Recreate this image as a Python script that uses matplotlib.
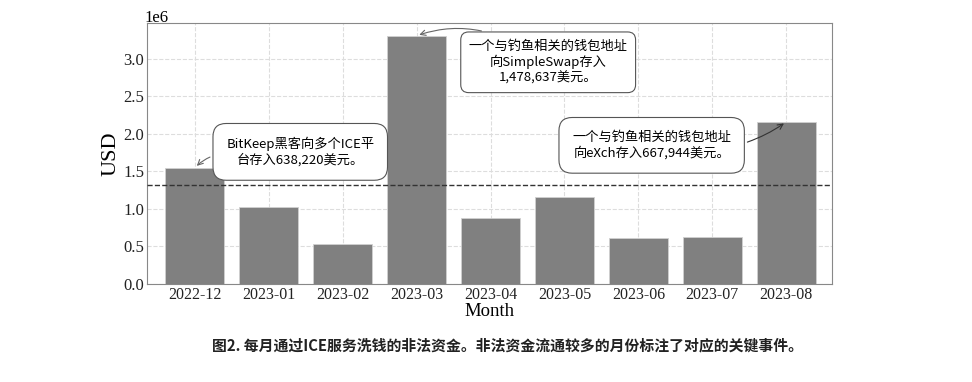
import matplotlib
matplotlib.use("Agg")
import matplotlib.pyplot as plt
import numpy as np

months = ["2022-12", "2023-01", "2023-02", "2023-03", "2023-04",
          "2023-05", "2023-06", "2023-07", "2023-08"]
usd = [1.547e6, 1.027e6, 0.533e6, 3.307e6, 0.88e6, 1.16e6, 0.613e6, 0.627e6, 2.16e6]
notes = {
    "2022-12": "BitKeep黑客向多个ICE平\n台存入638,220美元。",
    "2023-03": "一个与钓鱼相关的钱包地址\n向SimpleSwap存入\n1,478,637美元。",
    "2023-08": "一个与钓鱼相关的钱包地址\n向eXch存入667,944美元。",
}
caption = "图2. 每月通过ICE服务洗钱的非法资金。非法资金流通较多的月份标注了对应的关键事件。"

serif = ["Liberation Serif", "DejaVu Serif"]
cjk = ["Noto Sans CJK SC", "DejaVu Sans"]

fig = plt.figure(figsize=(9.72, 3.82), dpi=100)
ax = fig.add_axes([0.151, 0.2565, 0.705, 0.684])
x = np.arange(len(months))
ax.bar(x, usd, width=0.8, color="#808080", edgecolor="#d0d0d0", linewidth=0.6, zorder=2)
ax.axhline(np.mean(usd), color="#333333", linestyle="--", linewidth=1, zorder=3)

ax.set_xlim(-0.65, 8.62)
ax.set_ylim(0, 3.48e6)
ax.set_xticks(x)
ax.set_xticklabels(months, fontfamily=serif, fontsize=11.5)
ax.set_yticks(np.arange(0, 3.01e6, 0.5e6))
ax.set_yticklabels([f"{v:.1f}" for v in np.arange(0, 3.01, 0.5)], fontfamily=serif, fontsize=12)
ax.text(-0.003, 1.004, "1e6", transform=ax.transAxes, fontfamily=serif, fontsize=12,
        ha="left", va="baseline")
ax.set_xlabel("Month", fontfamily=serif, fontsize=13.5, labelpad=0)
ax.set_ylabel("USD", fontfamily=serif, fontsize=16, labelpad=2)
ax.grid(True, linestyle="--", color="#dddddd", linewidth=0.8, zorder=0)
ax.set_axisbelow(True)
for s in ax.spines.values():
    s.set_color("#888888")
ax.tick_params(colors="#222222", length=0, pad=2)

bbox = dict(boxstyle="round,pad=1.0", fc="white", ec="#555555", lw=0.8)
bbox2 = dict(boxstyle="round,pad=0.6", fc="white", ec="#555555", lw=0.8)
idx = {m: i for i, m in enumerate(months)}
ax.annotate(notes["2022-12"], xy=(idx["2022-12"], usd[idx["2022-12"]]),
            xytext=(1.426, 1.76e6), ha="center", va="center", fontsize=9.5,
            fontfamily=cjk, bbox=bbox, zorder=5, linespacing=1.25,
            arrowprops=dict(arrowstyle="->", color="#666666", lw=0.8,
                            relpos=(0.0, 0.45), connectionstyle="arc3,rad=0.2"))
ax.annotate(notes["2023-03"], xy=(idx["2023-03"], usd[idx["2023-03"]]),
            xytext=(4.78, 2.953e6), ha="center", va="center", fontsize=9.5,
            fontfamily=cjk, bbox=bbox2, zorder=5, linespacing=1.2,
            arrowprops=dict(arrowstyle="->", color="#666666", lw=0.8,
                            relpos=(0.25, 1.0), connectionstyle="arc3,rad=0.2"))
ax.annotate(notes["2023-08"], xy=(idx["2023-08"], usd[idx["2023-08"]]),
            xytext=(6.18, 1.847e6), ha="center", va="center", fontsize=9.5,
            fontfamily=cjk, bbox=bbox, zorder=5, linespacing=1.25,
            arrowprops=dict(arrowstyle="->", color="#333333", lw=0.8,
                            relpos=(1.0, 0.45), connectionstyle="arc3,rad=0.1"))

fig.text(0.522, 0.097, caption, ha="center", va="center", fontsize=10.7,
         fontfamily=cjk, fontweight="bold", color="#222222")
fig.savefig("out.png", dpi=100)
